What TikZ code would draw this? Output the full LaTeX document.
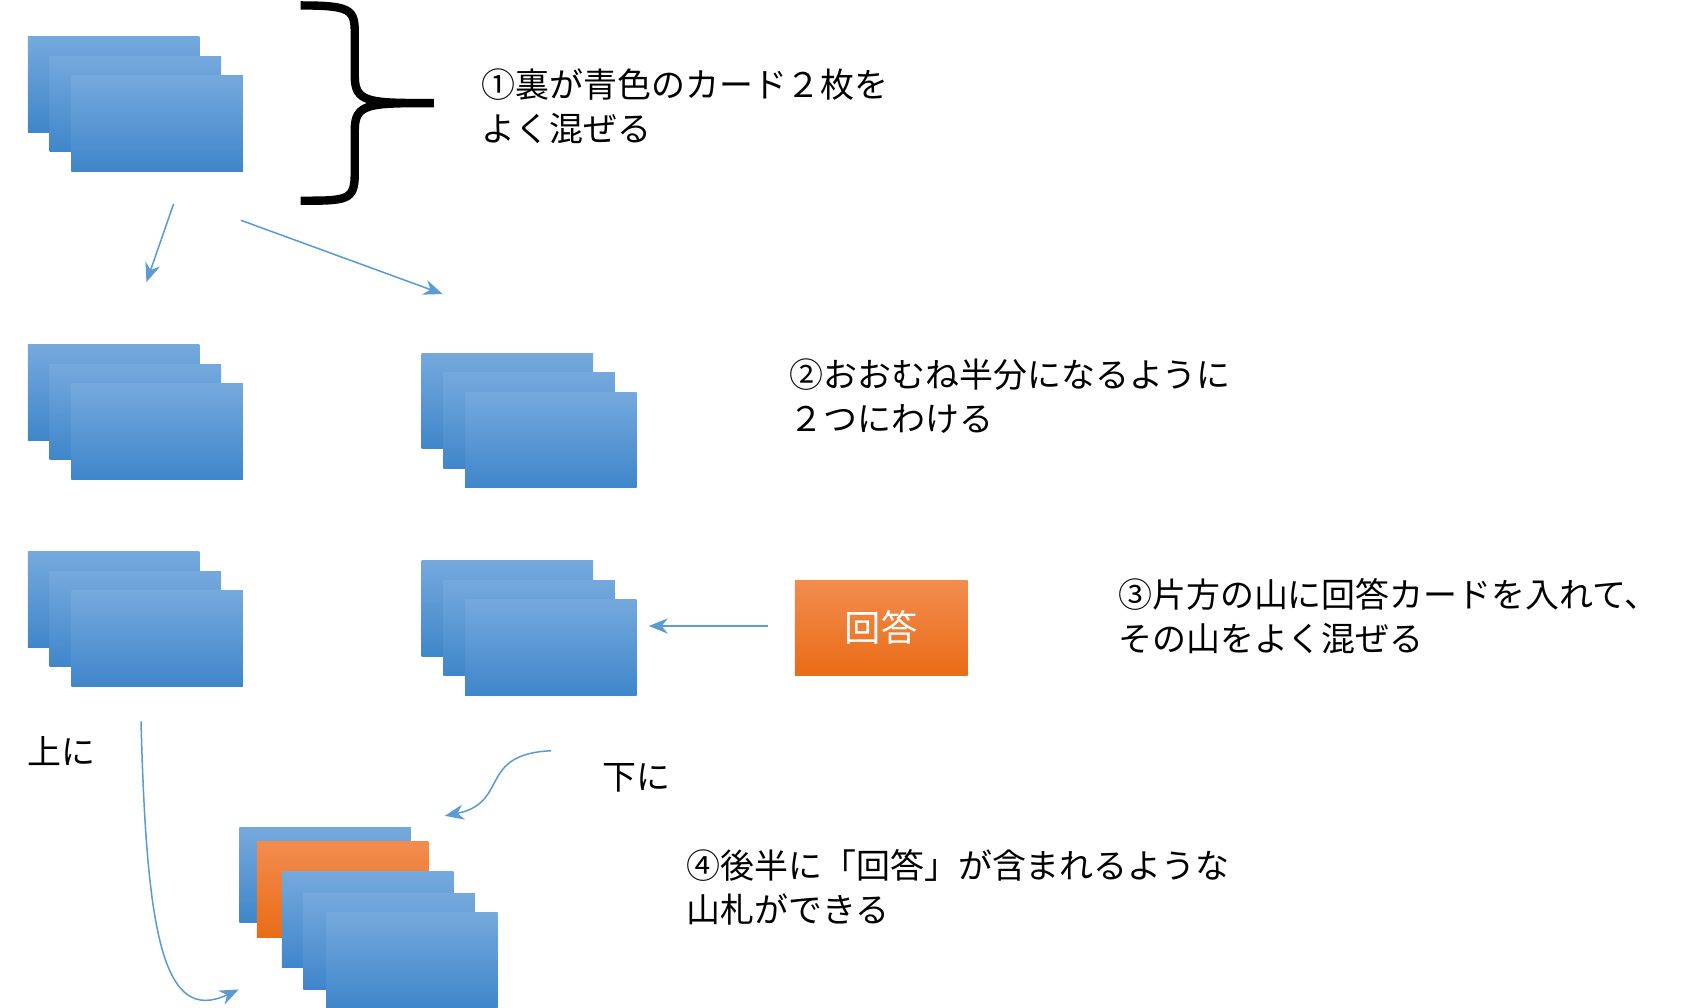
\documentclass[tikz,border=0pt]{standalone}
\usepackage{fontspec}
\setmainfont{Noto Sans CJK JP}
\usetikzlibrary{arrows.meta}
\begin{document}
\begin{tikzpicture}[x=0.01cm,y=-0.01cm,
  card/.style={anchor=north west,minimum width=1.58cm,minimum height=0.88cm,inner sep=0,draw=none,top color=blue1,bottom color=blue2},
  ocard/.style={card,top color=or1,bottom color=or2},
  lbl/.style={anchor=west,align=left,font=\fontsize{8.9}{11.5}\selectfont,inner sep=0},
  arr/.style={draw=line,-{Stealth[length=5pt,width=4pt]}}]
\definecolor{blue1}{HTML}{75A9DD}\definecolor{blue2}{HTML}{3F86CA}
\definecolor{or1}{HTML}{F28C4E}\definecolor{or2}{HTML}{EA6C16}
\definecolor{line}{HTML}{5B9BD5}
\useasboundingbox (0,0) rectangle (1567,929);
% stacks
\foreach \n/\x/\y in {a/25/33,b/25/317,c/388/325,d/25/508,e/388/516}{
  \node[card] (\n1) at (\x,\y) {};
  \node[card] (\n2) at (\x+20,\y+18) {};
  \node[card] (\n3) at (\x+40,\y+36) {};
}
\node[card] (f1) at (220,762) {};
\node[ocard] (f2) at (236,775) {};
\node[card] (f3) at (259,803) {};
\node[card] (f4) at (279,823) {};
\node[card] (f5) at (300,840) {};
\node[ocard,minimum width=1.59cm] (ans) at (732,534) {};
\node[text=white,font=\fontsize{9.5}{11}\selectfont] (anst) at (ans.center) {回答};
% brace
\draw[line width=2.2pt] (277,5) .. controls (330,5) and (327,10) .. (327,40) -- (327,70) .. controls (327,95) and (340,95) .. (400,95)
  (400,95) .. controls (340,95) and (327,95) .. (327,120) -- (327,160) .. controls (327,185) and (320,185) .. (277,185);
% arrows
\coordinate (s1) at (160,188); \coordinate (t1) at (135,260);
\coordinate (s2) at (222,203); \coordinate (t2) at (408,271);
\coordinate (s3) at (708,577); \coordinate (t3) at (598,577);
\coordinate (s4) at (508,692); \coordinate (t4) at (410,752);
\coordinate (s5) at (130,665); \coordinate (t5) at (220,912);
\draw[arr] (s1) -- (t1);
\draw[arr] (s2) -- (t2);
\draw[arr] (s3) -- (t3);
\draw[arr] (s4) .. controls (440,695) and (470,740) .. (t4);
\draw[arr] (s5) .. controls (135,860) and (150,945) .. (t5);
% texts
\node[lbl] (l1) at (443,98) {①裏が青色のカード２枚を\\よく混ぜる};
\node[lbl] (l2) at (727,365) {②おおむね半分になるように\\２つにわける};
\node[lbl] (l3) at (1030,568) {③片方の山に回答カードを入れて、\\その山をよく混ぜる};
\node[lbl] (l4) at (632,818) {④後半に「回答」が含まれるような\\山札ができる};
\node[lbl] (u) at (25,692) {上に};
\node[lbl] (dn) at (555,717) {下に};
\end{tikzpicture}
\end{document}
